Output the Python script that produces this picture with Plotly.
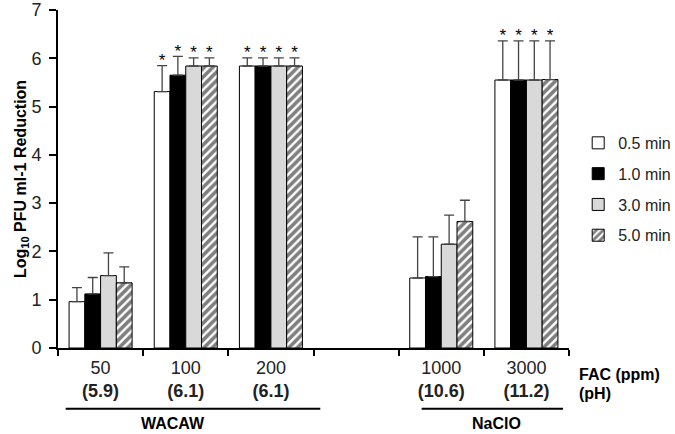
import plotly.graph_objects as go

# Data
groups = ["50", "100", "200", "", "1000", "3000"]
ph_labels = ["(5.9)", "(6.1)", "(6.1)", "", "(10.6)", "(11.2)"]
xpos = [0, 1, 2, 4, 5]  # slot index of each plotted group (slot 3 is the gap)
series_names = ["0.5 min", "1.0 min", "3.0 min", "5.0 min"]

v_05 = [0.96, 5.31, 5.84, 1.45, 5.55]
v_10 = [1.12, 5.65, 5.84, 1.48, 5.55]
v_30 = [1.50, 5.84, 5.84, 2.15, 5.55]
v_50 = [1.35, 5.84, 5.84, 2.62, 5.56]

e_05 = [0.29, 0.54, 0.17, 0.85, 0.81]
e_10 = [0.34, 0.39, 0.17, 0.82, 0.81]
e_30 = [0.47, 0.17, 0.17, 0.60, 0.81]
e_50 = [0.33, 0.17, 0.17, 0.44, 0.80]

# significance markers (*)
sig_05 = [False, True, True, False, True]
sig_10 = [False, True, True, False, True]
sig_30 = [False, True, True, False, True]
sig_50 = [False, True, True, False, True]

values = [v_05, v_10, v_30, v_50]
errors = [e_05, e_10, e_30, e_50]
sigs = [sig_05, sig_10, sig_30, sig_50]

FONT = "Liberation Sans, Arial, sans-serif"
bargap = 0.26
bar_w = (1 - bargap) / 4

styles = [
    dict(color="white", line=dict(color="black", width=1)),
    dict(color="black", line=dict(color="black", width=1)),
    dict(color="#d9d9d9", line=dict(color="black", width=1)),
    dict(color="white", line=dict(color="black", width=1),
         pattern=dict(shape="/", fgcolor="black", bgcolor="white", size=6, solidity=0.6)),
]

fig = go.Figure()
for i, name in enumerate(series_names):
    fig.add_trace(go.Bar(
        x=xpos, y=values[i], name=name, marker=styles[i],
        legendgroup=name,
        error_y=dict(type="data", array=errors[i], arrayminus=[0]*len(errors[i]),
                     symmetric=False, color="#444444", thickness=1.3, width=5),
    ))

for i in range(4):
    xs, ys = [], []
    for j, x in enumerate(xpos):
        if sigs[i][j]:
            xs.append(x + (i - 1.5) * bar_w)
            ys.append(values[i][j] + errors[i][j] + 0.08)
    fig.add_trace(go.Scatter(x=xs, y=ys, mode="text", text=["*"] * len(xs),
                             textfont=dict(family=FONT, size=17, color="#000000"),
                             textposition="middle center",
                             showlegend=False, cliponaxis=False, hoverinfo="skip"))

ticktext = [f"{g}<br><b>{p}</b>" if g else "" for g, p in zip(groups, ph_labels)]

fig.update_layout(
    width=675, height=434,
    margin=dict(l=58, r=106, t=10, b=86, autoexpand=False),
    paper_bgcolor="white", plot_bgcolor="white",
    barmode="group", bargap=bargap, bargroupgap=0,
    font=dict(family=FONT, color="black"),
    showlegend=True,
    legend=dict(x=1.018, xanchor="left", y=0.657, yanchor="top",
                font=dict(family=FONT, size=16, color="#222222"),
                tracegroupgap=7, itemwidth=30, bgcolor="rgba(0,0,0,0)"),
    xaxis=dict(
        range=[-0.5, 5.5], tickmode="array", tickvals=list(range(len(groups))),
        ticktext=ticktext, ticks="", showgrid=False, zeroline=False,
        showline=True, linecolor="black", linewidth=2, automargin=False,
        tickfont=dict(family=FONT, size=18, color="#222222"),
        ticklabelstandoff=2,
        minor=dict(tickmode="array", tickvals=[k + 0.5 for k in range(-1, 6)],
                   ticks="outside", ticklen=6, tickwidth=2, tickcolor="black", showgrid=False),
    ),
    yaxis=dict(
        range=[0, 7], tickmode="array", tickvals=list(range(8)),
        ticks="outside", ticklen=7, tickwidth=2, tickcolor="black",
        showgrid=False, zeroline=False, showline=True, linecolor="black", linewidth=2,
        automargin=False,
        tickfont=dict(family=FONT, size=18, color="#222222"),
        ticklabelstandoff=4,
        title=dict(text="<b>Log<sub>10</sub> PFU ml-1 Reduction</b>",
                   font=dict(family=FONT, size=16, color="black"), standoff=1),
    ),
)

# Group underlines and labels
fig.add_shape(type="line", xref="x", yref="paper", x0=-0.41, x1=2.58, y0=-0.18, y1=-0.18,
              line=dict(color="black", width=2))
fig.add_shape(type="line", xref="x", yref="paper", x0=3.77, x1=5.43, y0=-0.18, y1=-0.18,
              line=dict(color="black", width=2))
fig.add_annotation(text="<b>WACAW</b>", x=0.85, xref="x", y=-0.222, yref="paper",
                   xanchor="center", yanchor="middle", showarrow=False,
                   font=dict(family=FONT, size=16, color="black"))
fig.add_annotation(text="<b>NaClO</b>", x=4.65, xref="x", y=-0.224, yref="paper",
                   xanchor="center", yanchor="middle", showarrow=False,
                   font=dict(family=FONT, size=16, color="black"))
fig.add_annotation(text="<b>FAC (ppm)</b>", x=1.015, xref="paper", xanchor="left",
                   y=-0.077, yref="paper", yanchor="middle", showarrow=False,
                   font=dict(family=FONT, size=16, color="black"))
fig.add_annotation(text="<b>(pH)</b>", x=1.015, xref="paper", xanchor="left",
                   y=-0.136, yref="paper", yanchor="middle", showarrow=False,
                   font=dict(family=FONT, size=16, color="black"))

fig.write_html("out.html", config={"displayModeBar": False},
               post_script="document.body.style.margin='0';")
